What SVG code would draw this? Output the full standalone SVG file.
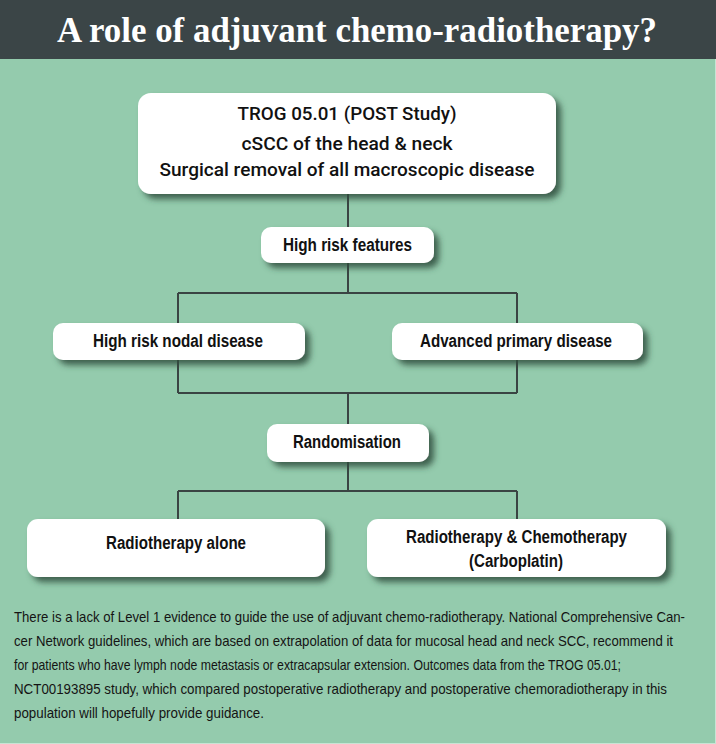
<svg xmlns="http://www.w3.org/2000/svg" width="716" height="744" viewBox="0 0 716 744">
<style>
.node{fill:#ffffff;filter:url(#sh)}
.lbl{font-family:"Liberation Sans",Arial,sans-serif;font-weight:bold;font-size:18px;fill:#111111;text-anchor:middle}
.top{font-family:Roboto,"Liberation Sans",Arial,sans-serif;font-weight:500;font-size:19px;fill:#111111;text-anchor:middle}
.para{font-family:"Liberation Sans",Arial,sans-serif;font-size:13.5px;fill:#141414}
.conn{stroke:#3a4443;stroke-width:2;fill:none}
</style>
<defs>
<filter id="sh" x="-10%" y="-20%" width="125%" height="160%">
<feDropShadow dx="5" dy="5" stdDeviation="3" flood-color="#2e4d3c" flood-opacity="0.85"/>
</filter>
</defs>
<rect x="0" y="0" width="716" height="744" fill="#94cbad"/>
<rect x="0" y="0" width="716" height="59" fill="#3b4547"/>
<line x1="715.5" y1="59" x2="715.5" y2="744" stroke="#c7e4d4" stroke-width="1"/>
<line x1="0" y1="743.5" x2="716" y2="743.5" stroke="#c7e4d4" stroke-width="1"/>
<text x="357" y="42" font-family="'Liberation Serif','Times New Roman',serif" font-weight="bold" font-size="36" fill="#ffffff" text-anchor="middle" textLength="600" lengthAdjust="spacingAndGlyphs">A role of adjuvant chemo-radiotherapy?</text>

<g id="connectors" class="conn">
<path d="M348 194 V293"/>
<path d="M178 293 H517"/>
<path d="M178 293 V393"/>
<path d="M517 293 V393"/>
<path d="M178 393 H517"/>
<path d="M348 393 V491"/>
<path d="M178 491 H517"/>
<path d="M178 491 V519"/>
<path d="M517 491 V519"/>
</g>

<g id="trog">
<rect class="node" x="138" y="93" width="418" height="101" rx="13"/>
<text class="top" x="347" y="120" textLength="219" lengthAdjust="spacingAndGlyphs">TROG 05.01 (POST Study)</text>
<text class="top" x="347" y="150" textLength="211" lengthAdjust="spacingAndGlyphs">cSCC of the head &amp; neck</text>
<text class="top" x="347" y="176" textLength="375" lengthAdjust="spacingAndGlyphs">Surgical removal of all macroscopic disease</text>
</g>

<g id="features">
<rect class="node" x="261" y="227" width="173" height="36" rx="10"/>
<text class="lbl" x="347.5" y="251" textLength="129" lengthAdjust="spacingAndGlyphs">High risk features</text>
</g>

<g id="nodal">
<rect class="node" x="53" y="323" width="252" height="37" rx="10"/>
<text class="lbl" x="178" y="347" textLength="170" lengthAdjust="spacingAndGlyphs">High risk nodal disease</text>
</g>

<g id="primary">
<rect class="node" x="392" y="323" width="251" height="37" rx="10"/>
<text class="lbl" x="516" y="347" textLength="192" lengthAdjust="spacingAndGlyphs">Advanced primary disease</text>
</g>

<g id="random">
<rect class="node" x="267" y="424" width="162" height="38" rx="10"/>
<text class="lbl" x="347" y="448" textLength="108" lengthAdjust="spacingAndGlyphs">Randomisation</text>
</g>

<g id="rt">
<rect class="node" x="27" y="519" width="298" height="58" rx="11"/>
<text class="lbl" x="176" y="549" textLength="140" lengthAdjust="spacingAndGlyphs">Radiotherapy alone</text>
</g>

<g id="crt">
<rect class="node" x="367" y="519" width="299" height="58" rx="11"/>
<text class="lbl" x="516.5" y="543" textLength="221" lengthAdjust="spacingAndGlyphs">Radiotherapy &amp; Chemotherapy</text>
<text class="lbl" x="516" y="567" textLength="94" lengthAdjust="spacingAndGlyphs">(Carboplatin)</text>
</g>

<g id="paragraph" class="para">
<text transform="translate(14 622) scale(1 1.15)" textLength="671" lengthAdjust="spacingAndGlyphs">There is a lack of Level 1 evidence to guide the use of adjuvant chemo-radiotherapy. National Comprehensive Can-</text>
<text transform="translate(14 646) scale(1 1.15)" textLength="659" lengthAdjust="spacingAndGlyphs">cer Network guidelines, which are based on extrapolation of data for mucosal head and neck SCC, recommend it</text>
<text transform="translate(14 670) scale(1 1.15)" textLength="607" lengthAdjust="spacingAndGlyphs">for patients who have lymph node metastasis or extracapsular extension. Outcomes data from the TROG 05.01;</text>
<text transform="translate(14 694) scale(1 1.15)" textLength="653" lengthAdjust="spacingAndGlyphs">NCT00193895 study, which compared postoperative radiotherapy and postoperative chemoradiotherapy in this</text>
<text transform="translate(14 718) scale(1 1.15)" textLength="250" lengthAdjust="spacingAndGlyphs">population will hopefully provide guidance.</text>
</g>
</svg>
